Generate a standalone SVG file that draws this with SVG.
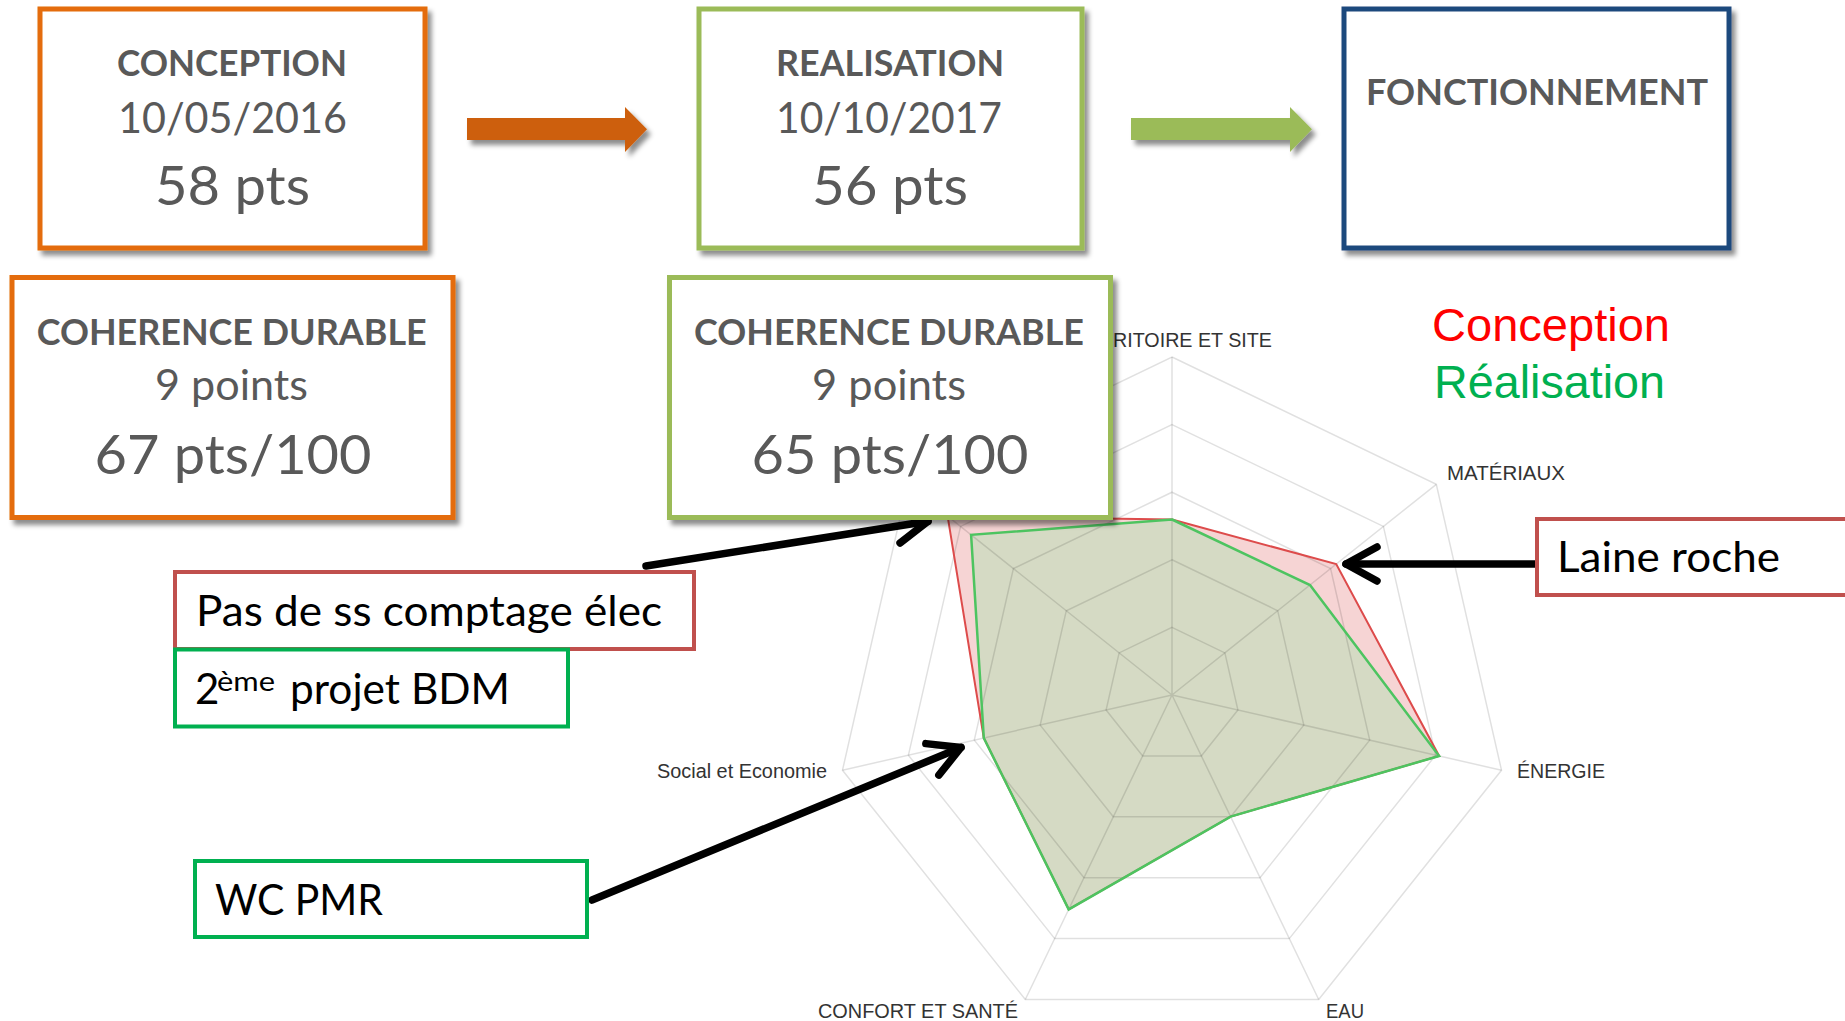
<svg xmlns="http://www.w3.org/2000/svg" width="1845" height="1021" viewBox="0 0 1845 1021">
<style>
  .box{fill:#fff;stroke-width:5;filter:url(#shadow)}
  .orange{stroke:#E46C0A}
  .lgreen{stroke:#9BBB59}
  .blue{stroke:#1F497D}
  .tt{font-family:Lato,'Open Sans',sans-serif;fill:#595959;text-anchor:middle}
  .title{font-weight:bold;font-size:36px}
  .mid{font-size:43px}
  .big{font-size:55px}
  .callout{fill:#fff;stroke-width:4}
  .red{stroke:#C0504D}
  .green{stroke:#00B050}
  .ct{font-family:Lato,'Open Sans',sans-serif;font-size:42px;fill:#000}
  .grid{fill:none;stroke:#000;stroke-opacity:0.12;stroke-width:1.5}
  .lbl{font-family:'Liberation Sans',Arial,sans-serif;font-size:19.5px;fill:#333}
  .leg{font-family:'Liberation Sans',Arial,sans-serif;font-size:47px}
  .arrow{stroke:#000;stroke-width:7.5;fill:none;stroke-linecap:round}
  .block{filter:url(#shadow)}
</style>
<defs>
  <filter id="shadow" x="-10%" y="-10%" width="130%" height="130%">
    <feDropShadow dx="4" dy="5" stdDeviation="2.5" flood-color="#000" flood-opacity="0.45"/>
  </filter>
  <marker id="chev" markerUnits="userSpaceOnUse" markerWidth="80" markerHeight="80" viewBox="-40 -40 80 80" refX="0" refY="0" orient="auto" overflow="visible">
    <path d="M-31,-17 L0,0 L-31,17" fill="none" stroke="#000" stroke-width="7.5" stroke-linecap="round" stroke-linejoin="round"/>
  </marker>
</defs>
<rect width="1845" height="1021" fill="#fff"/>

<g id="radar-chart">
  <polygon points="1172,519.5 1336.2,564.1 1439.1,756 1230.6,816.6 1068.7,909.4 983.8,738 947.6,516.1" fill="#F6D4D4"/>
  <polygon points="1172,519.5 1310,585 1439.1,756 1230.6,816.6 1068.7,909.4 983.8,738 971.1,534.8" fill="#D5DAC4"/>
  <g class="grid">
    <polygon points="1172,357 1436.3,484.3 1501.5,770.2 1318.7,999.5 1025.3,999.5 842.5,770.2 907.7,484.3"/>
    <polygon points="1172,424.6 1383.4,526.4 1435.6,755.2 1289.3,938.6 1054.7,938.6 908.4,755.2 960.6,526.4"/>
    <polygon points="1172,492.2 1330.6,568.6 1369.7,740.1 1260,877.7 1084,877.7 974.3,740.1 1013.4,568.6"/>
    <polygon points="1172,559.8 1277.7,610.7 1303.8,725.1 1230.7,816.8 1113.3,816.8 1040.2,725.1 1066.3,610.7"/>
    <polygon points="1172,627.4 1224.9,652.9 1237.9,710 1201.3,755.9 1142.7,755.9 1106.1,710 1119.1,652.9"/>
    <path d="M1172,695 L1172,357 M1172,695 L1436.3,484.3 M1172,695 L1501.5,770.2 M1172,695 L1318.7,999.5 M1172,695 L1025.3,999.5 M1172,695 L842.5,770.2 M1172,695 L907.7,484.3"/>
  </g>
  <polygon points="1172,519.5 1336.2,564.1 1439.1,756 1230.6,816.6 1068.7,909.4 983.8,738 947.6,516.1" fill="none" stroke="#DD4B4B" stroke-width="2"/>
  <polygon points="1172,519.5 1310,585 1439.1,756 1230.6,816.6 1068.7,909.4 983.8,738 971.1,534.8" fill="none" stroke="#4DC460" stroke-width="2.5"/>
  <text class="lbl" x="1113" y="347" textLength="159" lengthAdjust="spacingAndGlyphs">RITOIRE ET SITE</text>
  <text class="lbl" x="1447" y="480" textLength="118" lengthAdjust="spacingAndGlyphs">MATÉRIAUX</text>
  <text class="lbl" x="1517" y="778" textLength="88" lengthAdjust="spacingAndGlyphs">ÉNERGIE</text>
  <text class="lbl" x="1326" y="1018" textLength="38" lengthAdjust="spacingAndGlyphs">EAU</text>
  <text class="lbl" x="818" y="1018" textLength="200" lengthAdjust="spacingAndGlyphs">CONFORT ET SANTÉ</text>
  <text class="lbl" x="657" y="778" textLength="170" lengthAdjust="spacingAndGlyphs">Social et Economie</text>
</g>

<g id="legend">
  <text class="leg" x="1432" y="341" fill="#FF0000" textLength="238" lengthAdjust="spacingAndGlyphs">Conception</text>
  <text class="leg" x="1434" y="398" fill="#00B050" textLength="231" lengthAdjust="spacingAndGlyphs">Réalisation</text>
</g>

<g id="connectors">
  <polygon class="block" points="467,118 625,118 625,107 647,129.3 625,152 625,140 467,140" fill="#CD5F0A"/>
  <polygon class="block" points="1131,118 1290,118 1290,107 1312,129.3 1290,152 1290,140 1131,140" fill="#9BBB59"/>
  <line class="arrow" x1="646" y1="566" x2="928" y2="521.3" marker-end="url(#chev)"/>
  <line class="arrow" x1="592" y1="900" x2="961" y2="747.5" marker-end="url(#chev)"/>
  <line class="arrow" x1="1535" y1="564" x2="1346" y2="564" marker-end="url(#chev)"/>
</g>

<g id="node-conception">
  <rect class="box orange" x="40" y="9" width="385" height="239"/>
  <text class="tt title" x="232" y="76" textLength="230" lengthAdjust="spacingAndGlyphs">CONCEPTION</text>
  <text class="tt mid" x="232.5" y="132.5" textLength="229" lengthAdjust="spacingAndGlyphs">10/05/2016</text>
  <text class="tt big" x="232.5" y="205" textLength="155" lengthAdjust="spacingAndGlyphs">58 pts</text>
</g>
<g id="node-realisation">
  <rect class="box lgreen" x="699" y="9" width="383" height="239"/>
  <text class="tt title" x="890" y="76" textLength="228" lengthAdjust="spacingAndGlyphs">REALISATION</text>
  <text class="tt mid" x="889" y="132.5" textLength="226" lengthAdjust="spacingAndGlyphs">10/10/2017</text>
  <text class="tt big" x="890" y="205" textLength="156" lengthAdjust="spacingAndGlyphs">56 pts</text>
</g>
<g id="node-fonctionnement">
  <rect class="box blue" x="1344" y="9" width="385" height="239"/>
  <text class="tt title" x="1537" y="105" textLength="342" lengthAdjust="spacingAndGlyphs">FONCTIONNEMENT</text>
</g>
<g id="node-coherence-conception">
  <rect class="box orange" x="12" y="277.5" width="441" height="240"/>
  <text class="tt title" x="231.7" y="345" textLength="390" lengthAdjust="spacingAndGlyphs">COHERENCE DURABLE</text>
  <text class="tt mid" x="231.5" y="400" textLength="153" lengthAdjust="spacingAndGlyphs">9 points</text>
  <text class="tt big" x="233" y="474" textLength="277" lengthAdjust="spacingAndGlyphs">67 pts/100</text>
</g>
<g id="node-coherence-realisation">
  <rect class="box lgreen" x="669.5" y="277.5" width="441" height="240"/>
  <text class="tt title" x="889" y="345" textLength="390" lengthAdjust="spacingAndGlyphs">COHERENCE DURABLE</text>
  <text class="tt mid" x="889" y="400" textLength="154" lengthAdjust="spacingAndGlyphs">9 points</text>
  <text class="tt big" x="890" y="474" textLength="277" lengthAdjust="spacingAndGlyphs">65 pts/100</text>
</g>
<g id="node-pas-comptage">
  <rect class="callout red" x="175" y="572" width="519" height="77"/>
  <text class="ct" x="196" y="626" textLength="466" lengthAdjust="spacingAndGlyphs">Pas de ss comptage élec</text>
</g>
<g id="node-projet-bdm">
  <rect class="callout green" x="175" y="649.5" width="393" height="77"/>
  <text class="ct" y="704"><tspan x="195">2</tspan><tspan x="217" y="691" font-size="26px" textLength="58" lengthAdjust="spacingAndGlyphs">ème</tspan><tspan x="290" y="704" textLength="220" lengthAdjust="spacingAndGlyphs">projet BDM</tspan></text>
</g>
<g id="node-wc-pmr">
  <rect class="callout green" x="195" y="861" width="392" height="76"/>
  <text class="ct" x="215" y="915" textLength="168" lengthAdjust="spacingAndGlyphs">WC PMR</text>
</g>
<g id="node-laine-roche">
  <rect class="callout red" x="1537" y="519" width="330" height="76"/>
  <text class="ct" x="1557" y="572" textLength="223" lengthAdjust="spacingAndGlyphs">Laine roche</text>
</g>
</svg>
